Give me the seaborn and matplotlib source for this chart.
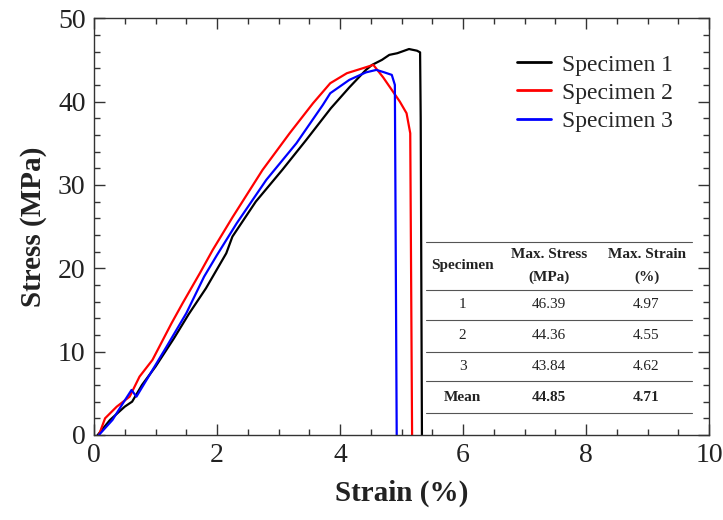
import numpy as np
import pandas as pd
import matplotlib
matplotlib.use("Agg")
import matplotlib.pyplot as plt
import seaborn as sns

# ---- data ----
s1_strain = [0.06, 0.26, 0.50, 0.62, 0.78, 1.00, 1.30, 1.54, 1.82, 2.15, 2.25, 2.63, 3.06, 3.45,
             3.85, 4.15, 4.42, 4.52, 4.68, 4.80, 4.93, 5.12, 5.25, 5.30, 5.31, 5.33]
s1_stress = [0.0, 1.8, 3.4, 4.0, 6.0, 8.2, 11.6, 14.5, 17.6, 21.8, 23.8, 28.0, 31.8, 35.4,
             39.2, 41.7, 43.8, 44.4, 45.0, 45.6, 45.8, 46.3, 46.1, 45.9, 38.0, 0.0]

s2_strain = [0.08, 0.18, 0.37, 0.58, 0.74, 0.95, 1.26, 1.44, 1.72, 1.93, 2.25, 2.74, 3.18,
             3.56, 3.84, 4.11, 4.37, 4.54, 4.70, 4.84, 4.97, 5.08, 5.14, 5.17]
s2_stress = [0.0, 2.0, 3.4, 4.6, 7.0, 9.0, 13.4, 15.8, 19.4, 22.2, 26.1, 31.8, 36.2,
             39.8, 42.2, 43.4, 44.0, 44.4, 42.9, 41.4, 40.0, 38.6, 36.2, 0.0]

s3_strain = [0.08, 0.30, 0.47, 0.61, 0.69, 0.87, 1.18, 1.50, 1.79, 2.00, 2.32, 2.80, 3.29,
             3.72, 3.84, 4.15, 4.42, 4.59, 4.72, 4.84, 4.89, 4.92]
s3_stress = [0.0, 1.8, 3.8, 5.4, 4.6, 6.8, 10.6, 14.6, 19.0, 21.6, 25.4, 30.6, 35.0,
             39.6, 41.0, 42.6, 43.5, 43.8, 43.5, 43.2, 42.0, 0.0]

series_names = ["Specimen 1", "Specimen 2", "Specimen 3"]
series_colors = ["#000000", "#ff0000", "#0000ff"]

table_header = ["Specimen", "Max. Stress\n(MPa)", "Max. Strain\n(%)"]
table_specimen = ["1", "2", "3", "Mean"]
table_stress = ["46.39", "44.36", "43.84", "44.85"]
table_strain = ["4.97", "4.55", "4.62", "4.71"]

# ---- build long table ----
frames = []
for name, xs, ys in zip(series_names, [s1_strain, s2_strain, s3_strain],
                        [s1_stress, s2_stress, s3_stress]):
    frames.append(pd.DataFrame({"Strain": xs, "Stress": ys, "Specimen": name,
                                "order": range(len(xs))}))
df = pd.concat(frames, ignore_index=True)

sns.set_style("ticks")
plt.rcParams["font.family"] = ["Liberation Serif", "DejaVu Serif"]

fig = plt.figure(figsize=(7.23, 5.2), dpi=100)
ax = fig.add_axes([0.130, 0.1635, 0.851, 0.8015])

sns.lineplot(data=df, x="Strain", y="Stress", hue="Specimen", units="Specimen",
             estimator=None, sort=False, palette=series_colors, linewidth=1.6, ax=ax)

ax.set_xlim(0, 10)
ax.set_ylim(0, 50)
ax.set_xticks([0, 2, 4, 6, 8, 10])
ax.set_yticks([0, 10, 20, 30, 40, 50])
ax.set_xticks(np.arange(0, 10.01, 0.5), minor=True)
ax.set_yticks(np.arange(0, 50.01, 2), minor=True)
ax.tick_params(which="both", direction="in", top=True, right=True, width=1.0, color="#333333")
ax.tick_params(which="major", length=8, labelsize=20, pad=6, labelcolor="#222222")
ax.tick_params(which="minor", length=4)
for sp in ax.spines.values():
    sp.set_linewidth(1.0)
    sp.set_color("#333333")

ax.set_xlabel("Strain (%)", fontsize=21, fontweight="bold", labelpad=8, color="#222222")
ax.set_ylabel("Stress (MPa)", fontsize=21, fontweight="bold", labelpad=8, color="#222222")

leg = ax.legend(loc="upper right", bbox_to_anchor=(0.975, 0.965), frameon=False, fontsize=17,
                handlelength=1.45, handletextpad=0.45, labelspacing=0.28)
for line in leg.get_lines():
    line.set_linewidth(2.0)

# ---- inset table ----
tx0, tx1 = 0.540, 0.972   # axes fraction
rows_y = [0.463, 0.348, 0.276, 0.200, 0.129, 0.053]
col_x = [0.599, 0.740, 0.898]
ax.add_patch(plt.Rectangle((tx0, rows_y[-1]), tx1 - tx0, rows_y[0] - rows_y[-1],
                           transform=ax.transAxes, facecolor="white", edgecolor="none", zorder=4))
for y in rows_y:
    ax.plot([tx0, tx1], [y, y], transform=ax.transAxes, color="#555555", lw=0.8, zorder=5)
hy = (rows_y[0] + rows_y[1]) / 2
for cx, txt in zip(col_x, table_header):
    ax.text(cx, hy, txt, transform=ax.transAxes, ha="center", va="center", fontsize=11,
            fontweight="bold", linespacing=1.85, zorder=6, color="#222222")
for i in range(4):
    ry = (rows_y[i + 1] + rows_y[i + 2]) / 2
    bold = "bold" if table_specimen[i] == "Mean" else "normal"
    for cx, txt in zip(col_x, [table_specimen[i], table_stress[i], table_strain[i]]):
        ax.text(cx, ry, txt, transform=ax.transAxes, ha="center", va="center", fontsize=11,
                fontweight=bold, zorder=6, color="#222222")

fig.savefig("out.png", dpi=100)
